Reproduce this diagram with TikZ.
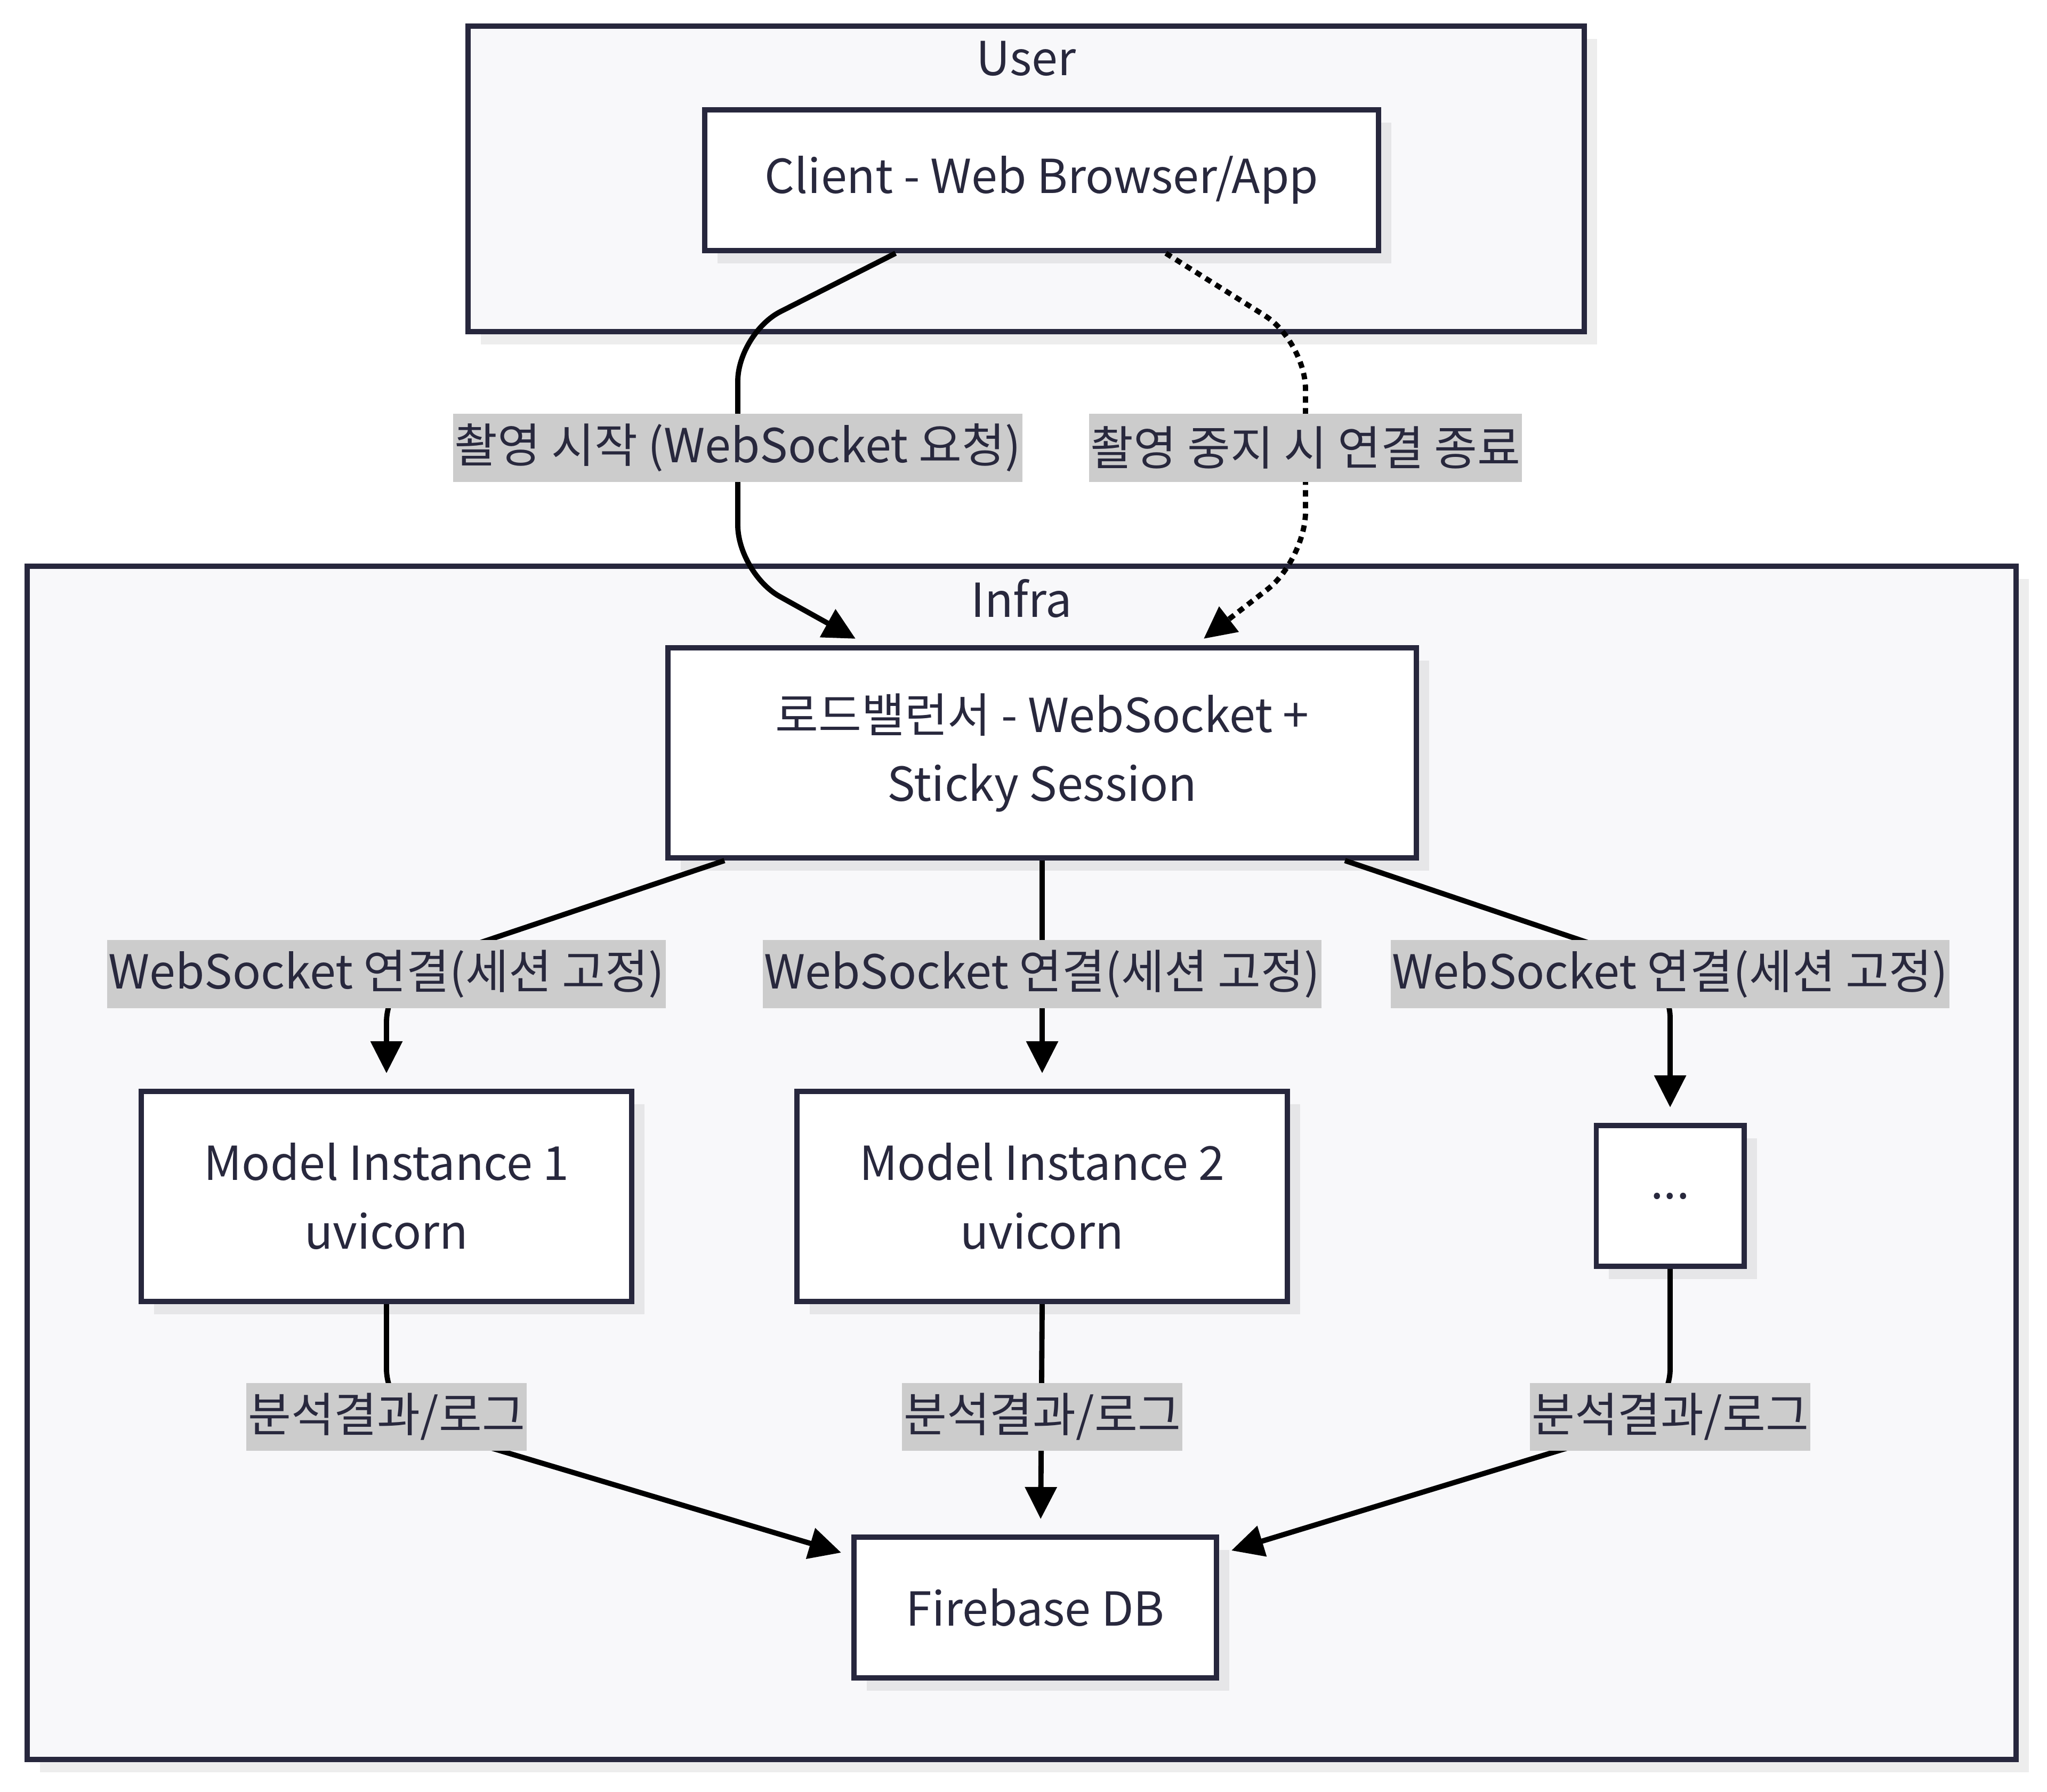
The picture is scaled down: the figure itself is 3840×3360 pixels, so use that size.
\documentclass[tikz,border=0pt]{standalone}
\usepackage{fontspec}
\setmainfont{Noto Sans CJK KR}
\usetikzlibrary{arrows.meta,shadows,calc}
\definecolor{strokec}{HTML}{27273D}
\definecolor{textc}{HTML}{28283D}
\definecolor{clusterfill}{HTML}{F8F8FA}
\definecolor{labelfill}{HTML}{CCCCCC}
\newcommand{\dfont}{\fontsize{25}{36.7}\selectfont}
\begin{document}
\begin{tikzpicture}[x=0.01cm,y=-0.01cm,
  cluster/.style={draw=strokec, line width=2.8pt, fill=clusterfill, inner sep=0pt,
    drop shadow={shadow xshift=0.24cm, shadow yshift=-0.24cm, fill=black, opacity=0.07}},
  ctitle/.style={text=textc, font=\dfont, inner sep=0pt},
  box/.style={draw=strokec, line width=2.8pt, fill=white, text=textc, align=center,
    inner sep=0pt, font=\dfont,
    drop shadow={shadow xshift=0.24cm, shadow yshift=-0.24cm, fill=black, opacity=0.07}},
  elabel/.style={fill=labelfill, text=textc, font=\dfont, inner xsep=0.03cm, inner ysep=0pt,
    minimum height=1.27cm},
  edge/.style={draw=black, line width=2.8pt, rounded corners=0.9cm,
    -{Triangle[length=0.6cm, width=0.58cm]}},
  dotline/.style={dash pattern=on 0.12cm off 0.1cm},
]
\useasboundingbox (0,0) rectangle (3840,3360);
\fill[white] (0,0) rectangle (3840,3360);

% clusters
\node[cluster, minimum width=20.92cm, minimum height=5.73cm] (user) at (1925,335.5) {};
\node[ctitle] (usert) at (1925,110) {User};
\node[cluster, minimum width=37.29cm, minimum height=22.36cm] (infra) at (1916.5,2181) {};
\node[ctitle] (infrat) at (1916,1122) {Infra};

% nodes
\node[box, minimum width=12.63cm, minimum height=2.64cm] (client) at (1954,338) {Client - Web Browser/App};
\node[box, minimum width=14.03cm, minimum height=3.94cm] (lb) at (1955,1412) {로드밸런서 - WebSocket +\\Sticky Session};
\node[box, minimum width=9.2cm, minimum height=3.94cm] (m1) at (725,2244) {Model Instance 1\\uvicorn};
\node[box, minimum width=9.19cm, minimum height=3.94cm] (m2) at (1955,2244) {Model Instance 2\\uvicorn};
\node[box, minimum width=2.77cm, minimum height=2.64cm] (dots) at (3133,2243) {...};
\node[box, minimum width=6.8cm, minimum height=2.64cm] (fb) at (1942,3015) {Firebase DB};

% edges
\draw[edge] ($(client.south)+(-274,0)$) -- (1384,625) -- (1384,1075) -- ($(lb.north)+(-350,-12)$);
\draw[edge, dotline] ($(client.south)+(233,0)$) -- (2449,640) -- (2449,1050) -- ($(lb.north)+(303,-12)$);
\draw[edge, shorten >=0.29cm] ($(lb.south)+(-596,0)$) -- (725,1827) -- (m1.north);
\draw[edge, shorten >=0.29cm] (lb.south) -- (m2.north);
\draw[edge, shorten >=0.29cm] ($(lb.south)+(568,0)$) -- (3133,1820) -- (dots.north);
\draw[edge] (m1.south) -- (725,2657) -- (1578,2912);
\draw[edge, shorten >=0.29cm] (m2.south) -- ($(fb.north)+(10,0)$);
\draw[edge] (dots.south) -- (3133,2657) -- (2310,2908);

% labels
\node[elabel] (l1) at (1384,840) {촬영 시작 (WebSocket 요청)};
\node[elabel] (l2) at (2449,840) {촬영 중지 시 연결 종료};
\node[elabel] (l3) at (725,1827) {WebSocket 연결(세션 고정)};
\node[elabel] (l4) at (1955,1827) {WebSocket 연결(세션 고정)};
\node[elabel] (l5) at (3133,1827) {WebSocket 연결(세션 고정)};
\node[elabel] (l6) at (725,2657) {분석결과/로그};
\node[elabel] (l7) at (1955,2657) {분석결과/로그};
\node[elabel] (l8) at (3133,2657) {분석결과/로그};
\end{tikzpicture}
\end{document}
